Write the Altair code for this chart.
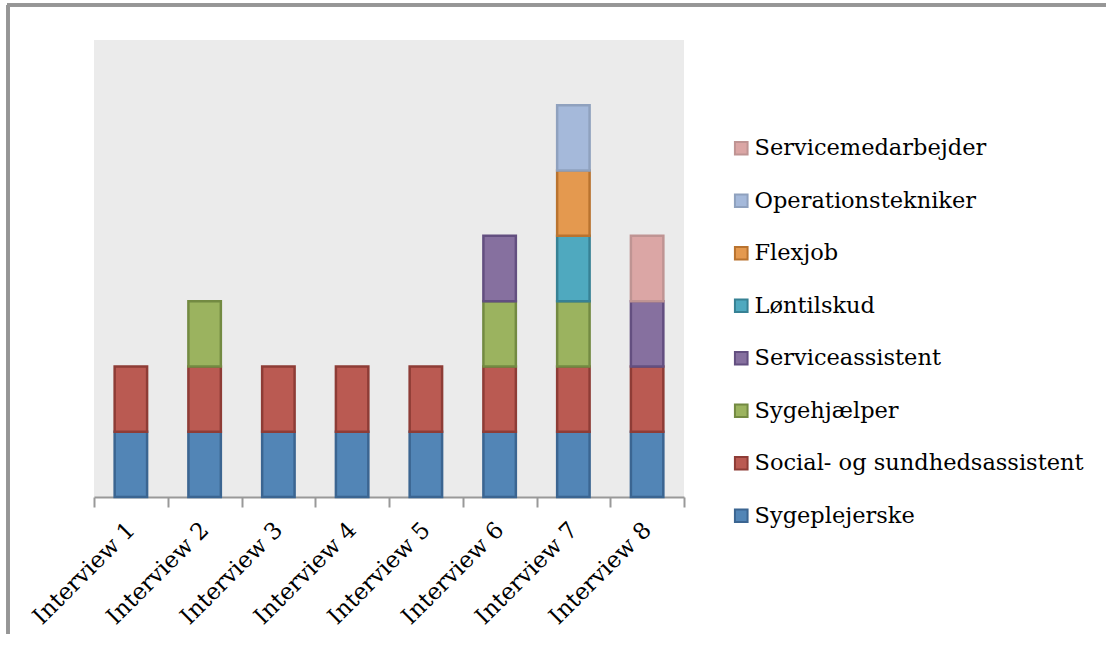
import altair as alt
import pandas as pd

interviews = ["Interview 1", "Interview 2", "Interview 3", "Interview 4",
              "Interview 5", "Interview 6", "Interview 7", "Interview 8"]

roles = ["Sygeplejerske", "Social- og sundhedsassistent", "Sygehjælper",
         "Serviceassistent", "Løntilskud", "Flexjob", "Operationstekniker",
         "Servicemedarbejder"]

counts = {
    "Sygeplejerske":                [1, 1, 1, 1, 1, 1, 1, 1],
    "Social- og sundhedsassistent": [1, 1, 1, 1, 1, 1, 1, 1],
    "Sygehjælper":                  [0, 1, 0, 0, 0, 1, 1, 0],
    "Serviceassistent":             [0, 0, 0, 0, 0, 1, 0, 1],
    "Løntilskud":                   [0, 0, 0, 0, 0, 0, 1, 0],
    "Flexjob":                      [0, 0, 0, 0, 0, 0, 1, 0],
    "Operationstekniker":           [0, 0, 0, 0, 0, 0, 1, 0],
    "Servicemedarbejder":           [0, 0, 0, 0, 0, 0, 0, 1],
}

fills = ["#5285B6", "#BA5A52", "#9BB35F", "#86709F", "#4FA9BF", "#E4994F",
         "#A5B9DA", "#DBA6A5"]
strokes = ["#3B6591", "#8E3C36", "#738A42", "#634F80", "#378194", "#B9732F",
           "#8FA1BE", "#BF9493"]

rows = []
for r, role in enumerate(roles):
    for i, iv in enumerate(interviews):
        if counts[role][i] > 0:
            rows.append({"Interview": iv, "Rolle": role,
                         "Antal": counts[role][i], "rank": r})
df = pd.DataFrame(rows)

legend_domain = roles[::-1]
legend_fills = fills[::-1]
legend_strokes = strokes[::-1]

FONT = "DejaVu Serif"

legend_cfg = alt.Legend(
    title=None, orient="none", legendX=636, legendY=97,
    symbolType="square", symbolSize=160, symbolStrokeWidth=2,
    labelFont=FONT, labelFontSize=22.5, labelColor="#000000",
    rowPadding=29.5, labelOffset=2, labelLimit=400,
)

bars = alt.Chart(df).mark_bar(
    width=alt.RelativeBandSize(0.44), strokeWidth=2.5
).encode(
    x=alt.X("Interview:N", sort=interviews, title=None,
            scale=alt.Scale(paddingInner=0, paddingOuter=0),
            axis=alt.Axis(labelAngle=315, labelAlign="right",
                          labelBaseline="middle", labelFont=FONT,
                          labelFontSize=23, labelColor="#000000",
                          labelPadding=19, tickBand="extent",
                          domainColor="#999999", domainWidth=2,
                          tickColor="#999999", tickWidth=2, tickSize=10)),
    y=alt.Y("Antal:Q", stack="zero", title=None,
            scale=alt.Scale(domain=[0, 7], nice=False), axis=None),
    fill=alt.Fill("Rolle:N", scale=alt.Scale(domain=legend_domain,
                                             range=legend_fills),
                  legend=legend_cfg),
    stroke=alt.Stroke("Rolle:N", scale=alt.Scale(domain=legend_domain,
                                                 range=legend_strokes),
                      legend=legend_cfg),
    order=alt.Order("rank:Q", sort="ascending"),
)

border_left = alt.Chart(df).mark_rule(color="#969696", strokeWidth=2.5).encode(
    x=alt.value(-86), y=alt.value(-35), y2=alt.value(594))
border_top = alt.Chart(df).mark_rule(color="#969696", strokeWidth=2.5).encode(
    x=alt.value(-87), x2=alt.value(1012), y=alt.value(-35))

chart = alt.layer(bars, border_left, border_top).properties(
    width=590, height=457,
    autosize=alt.AutoSizeParams(type="none"),
    padding={"left": 94, "top": 40, "right": 422, "bottom": 148},
).configure_view(fill="#EBEBEB", strokeWidth=0)

chart.save("out.html", embed_options={"renderer": "svg", "actions": False})
